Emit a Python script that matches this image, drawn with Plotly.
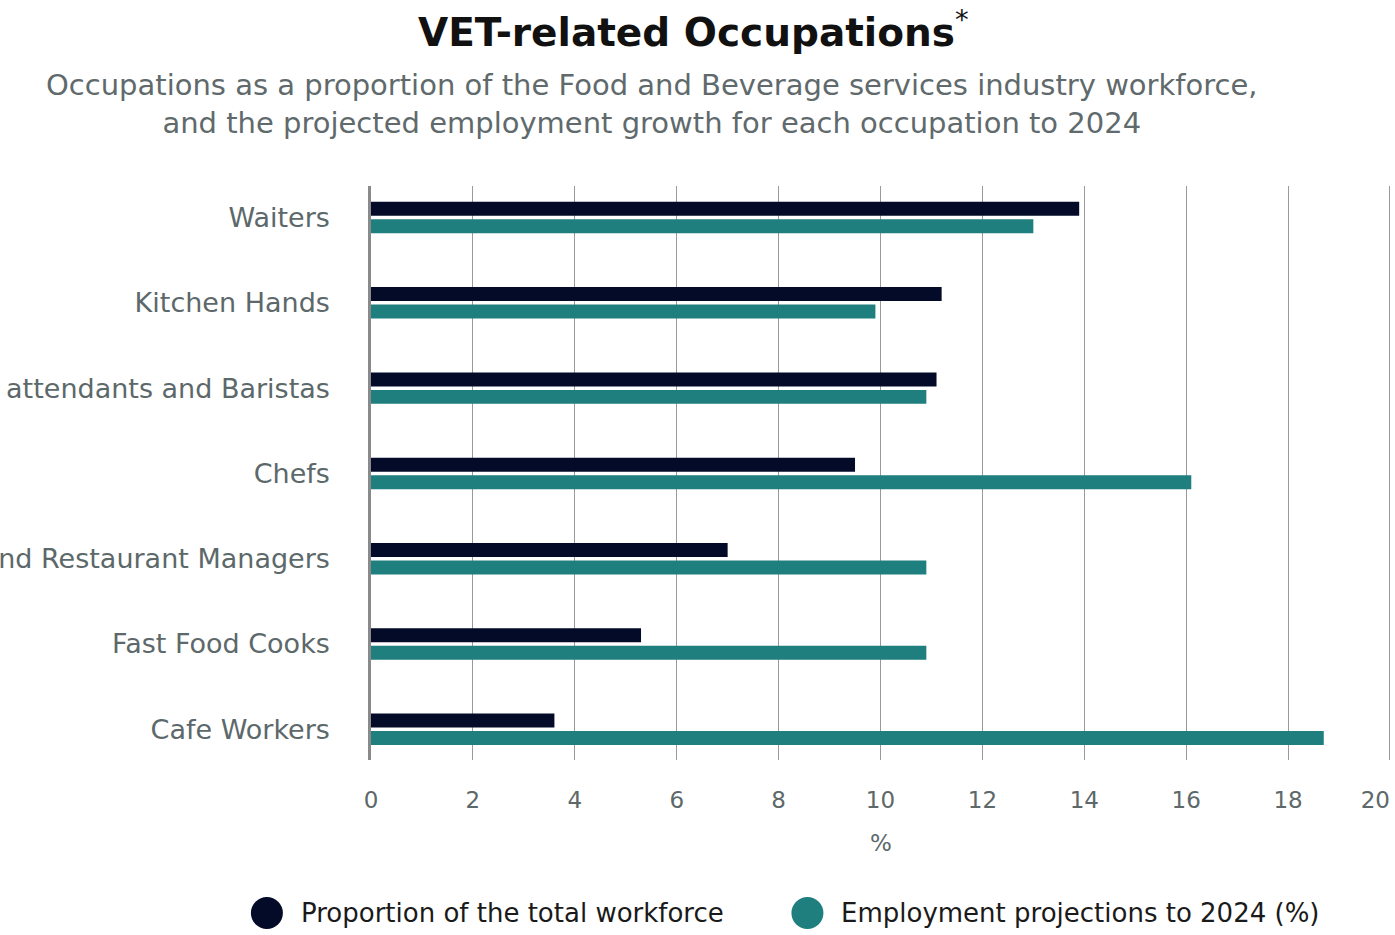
import plotly.graph_objects as go

categories = ["Waiters", "Kitchen Hands", "Bar attendants and Baristas", "Chefs",
              "Cafe and Restaurant Managers", "Fast Food Cooks", "Cafe Workers"]
proportion = [13.9, 11.2, 11.1, 9.5, 7.0, 5.3, 3.6]
projection = [13.0, 9.9, 10.9, 16.1, 10.9, 10.9, 18.7]
series_names = ["Proportion of the total workforce", "Employment projections to 2024 (%)"]
colors = ["#040b29", "#1e7f7e"]
x_ticks = [0, 2, 4, 6, 8, 10, 12, 14, 16, 18, 20]
x_tick_text = [str(v) for v in x_ticks[:-1]] + ["20\u00a0\u00a0\u00a0\u00a0"]

FONT = "DejaVu Sans"
GREY = "#5c686a"

fig = go.Figure()
for name, vals, col in zip(series_names, [proportion, projection], colors):
    fig.add_trace(go.Bar(y=categories, x=vals, orientation="h", name=name,
                         marker=dict(color=col, line=dict(width=0)), showlegend=False))

fig.update_layout(
    width=1395, height=935,
    margin=dict(l=371, r=4, t=186, b=175, autoexpand=False),
    paper_bgcolor="white", plot_bgcolor="white",
    barmode="group", bargap=0.59, bargroupgap=0.2,
    font=dict(family=FONT, color=GREY),
    xaxis=dict(range=[0, 20.02], tickvals=x_ticks, ticktext=x_tick_text, showgrid=True,
               gridcolor="#9a9a9a", ticklabeloverflow="allow",
               gridwidth=1.3, zeroline=False, showline=False, automargin=False,
               tickfont=dict(size=23, color=GREY), ticklabelstandoff=24,
               title=dict(text="%", font=dict(size=23, color=GREY), standoff=22)),
    yaxis=dict(autorange=False, range=[6.36, -0.37], showgrid=False, showline=True,
               automargin=False,
               linecolor="#8a8a8a", linewidth=2.5, tickfont=dict(size=27, color=GREY),
               ticklabelstandoff=33),
    title=dict(text="<b>VET-related Occupations</b><sup>*</sup>", x=0.497, xanchor="center",
               y=1 - 32 / 935, yanchor="middle", yref="container",
               font=dict(size=39, color="#111111", family=FONT)),
)

fig.add_annotation(text="Occupations as a proportion of the Food and Beverage services industry workforce,<br>and the projected employment growth for each occupation to 2024",
                   xref="paper", yref="paper", x=(652 - 371) / 1019, y=(760 - 104) / 574,
                   xanchor="center", yanchor="middle", showarrow=False,
                   font=dict(size=29, color="#606a6c", family=FONT), align="center")

# custom circular legend
leg_y = (760 - 913) / 574
for name, col, cx, tx in zip(series_names, colors, [267, 807], [299, 839]):
    fig.add_shape(type="circle", xref="paper", yref="paper", xsizemode="pixel", ysizemode="pixel",
                  xanchor=(cx - 371) / 1019, yanchor=leg_y, x0=-16, x1=16, y0=-16, y1=16,
                  fillcolor=col, line=dict(width=0))
    fig.add_annotation(text=name, xref="paper", yref="paper", x=(tx - 371) / 1019, y=leg_y,
                       xanchor="left", yanchor="middle", showarrow=False,
                       font=dict(size=26, color="#1a1a1a", family=FONT))

fig.write_html("out.html", config={"displayModeBar": False},
               post_script="document.body.style.margin='0';")
